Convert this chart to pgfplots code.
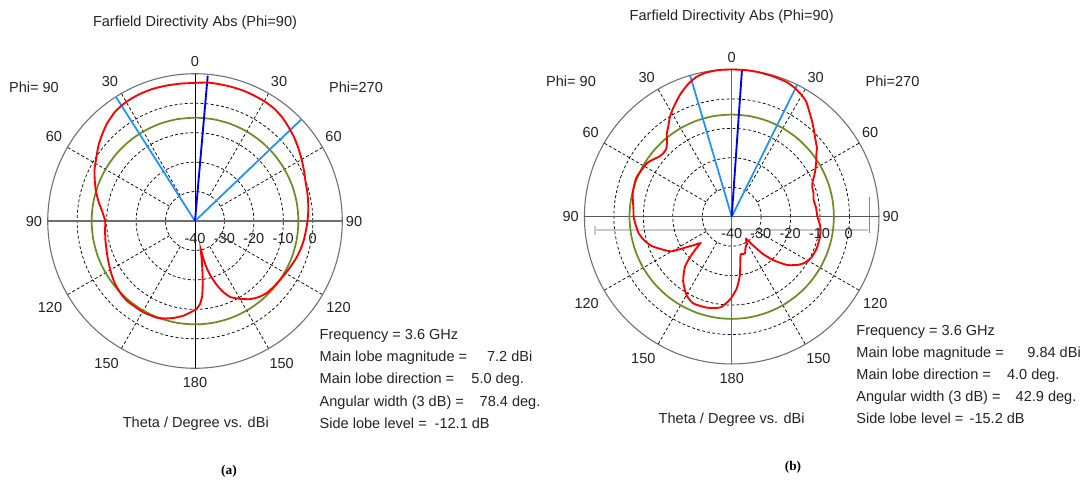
\documentclass[border=0pt]{standalone}
\usepackage{fontspec}
\setmainfont{Liberation Sans}
\newfontfamily\serifb{Liberation Serif}
\usepackage{pgfplots}
\usepackage{pgfplotstable}
\pgfplotsset{compat=1.18}
\usepgfplotslibrary{polar}

\definecolor{cstred}{RGB}{255,0,0}
\definecolor{cstgreen}{RGB}{107,142,35}
\definecolor{cstblue}{RGB}{0,0,235}
\definecolor{cstlblue}{RGB}{30,144,255}
\definecolor{cstaxis}{RGB}{110,110,110}
\definecolor{txt}{RGB}{35,35,35}
\definecolor{slider}{RGB}{200,200,200}
\definecolor{sliderb}{RGB}{160,120,120}

\newcommand\fs{\fontsize{10.9}{13}\selectfont}

% main lobe pattern (a): theta (deg, clockwise from top), directivity (dBi)
\pgfplotstableread{
phi db
0 6.9
5 7.2
10 7.2
15 7.2
20 7.2
25 7.1
30 7.0
35 6.7
40 6.0
45 5.0
50 4.0
55 2.9
60 1.8
65 0.8
70 -0.1
75 -0.6
80 -1.0
85 -1.4
90 -1.8
95 -2.2
100 -2.5
105 -2.9
110 -3.4
115 -4.0
120 -4.5
125 -4.9
130 -5.2
135 -5.5
140 -6.3
145 -7.6
150 -9.5
155 -11.5
158 -13.8
161 -16.8
164 -20.5
166 -23.5
167.5 -27.0
168.5 -30.4
170 -27.0
171.5 -23.0
173 -18.5
174.5 -14.5
176.5 -11.8
179 -10.2
182 -9.2
187 -7.6
192 -6.4
197 -5.4
202 -4.7
210 -4.4
220 -4.4
226 -4.8
232 -5.5
237 -6.3
242 -7.1
247 -7.8
252 -8.4
258 -8.9
264 -9.3
270 -9.5
276 -8.3
282 -6.4
287 -4.8
292 -3.3
297 -1.7
303 -0.1
308 1.6
313 3.1
318 4.6
324 6.0
330 6.7
336 7.0
342 7.1
348 7.0
354 6.9
360 6.9
}\redA

% pattern (b)
\pgfplotstableread{
phi db
0 10.0
5 10.0
10 9.9
16 9.7
22 9.4
26 8.7
30 7.6
33 6.5
36 4.6
40 2.4
44 0.3
47 -1.2
51 -2.8
54 -4.5
57 -5.8
62 -8.0
67 -10.2
70 -10.9
74 -11.1
78 -11.6
84 -11.2
90 -10.9
96 -9.8
102 -9.3
110 -9.2
117 -9.6
122 -10.6
126 -12.2
131 -15.0
136 -19.4
140 -23.5
144 -28.5
147 -31.0
151 -29.5
156 -28.5
160 -26.8
164 -26.8
167 -26.7
172 -20.0
176 -15.6
181 -12.0
187 -9.0
195 -8.0
204 -7.8
210 -9.3
217 -12.6
223 -16.7
226 -20.4
228 -23.5
230 -26.0
233 -24.0
236 -21.5
240 -16.5
245 -13.8
250 -11.0
255 -9.2
260 -7.9
265 -7.3
270 -6.7
275 -6.5
283 -5.5
292 -5.0
302 -5.9
306 -7.0
310 -8.1
313 -8.3
316 -8.0
319 -6.5
322 -4.2
325 -2.5
328 -0.3
331 1.5
335 3.8
338 5.5
342 7.5
346 9.0
350 9.7
355 10.0
360 10.0
}\redB

\tikzset{gridr/.style={black, line width=0.55pt, dash pattern=on 2.2pt off 1.7pt}}

\pgfplotsset{
  cstpolar/.style={
    scale only axis, width=220.9pt, height=220.9pt,
    anchor=center,
    ymin=0, ymax=50,
    xtick=\empty, ytick={10,20,30,40},
    yticklabels={},
    ymajorgrids,
    major grid style={black, line width=0.55pt, dash pattern=on 2.2pt off 1.7pt},
    axis line style={draw=cstaxis, line width=0.8pt},
    tick style={draw=none},
    clip=false,
  },
  dB/.style={x filter/.expression={90-x}, y filter/.expression={max(y+40,0)}},
}

\begin{document}
\begin{tikzpicture}[x=0.75pt, y=-0.75pt]
\path[use as bounding box, fill=white] (0,0) rectangle (1080,481);

% ---------------- (a) ----------------
\begin{polaraxis}[cstpolar, at={(146.25pt,-165.75pt)}]
\pgfplotsinvokeforeach{30,60,120,150,210,240,300,330}{
  \draw[gridr] (axis cs:#1,10) -- (axis cs:#1,50);
}
\draw[cstaxis, line width=0.8pt] (axis cs:0,50) -- (axis cs:180,50);
\draw[black, line width=0.65pt] (axis cs:90,50) -- (axis cs:270,50);
\addplot[dB, cstgreen, line width=1.3pt, smooth] coordinates {
(0,-4.9)(10,-4.9)(20,-4.9)(30,-4.9)(40,-4.9)(50,-4.9)(60,-4.9)(70,-4.9)(80,-4.9)
(90,-4.9)(100,-4.9)(110,-4.9)(120,-4.9)(130,-4.9)(140,-4.9)(150,-4.9)(160,-4.9)(170,-4.9)
(180,-4.9)(190,-4.9)(200,-4.9)(210,-4.9)(220,-4.9)(230,-4.9)(240,-4.9)(250,-4.9)(260,-4.9)
(270,-4.9)(280,-4.9)(290,-4.9)(300,-4.9)(310,-4.9)(320,-4.9)(330,-4.9)(340,-4.9)(350,-4.9)(360,-4.9)};
\addplot[dB, cstlblue, line width=1.3pt] coordinates {(327.5,-40) (327.5,10)};
\addplot[dB, cstlblue, line width=1.3pt] coordinates {(46.3,-40) (46.3,10)};
\addplot[dB, cstblue, line width=1.4pt] coordinates {(5,-40) (5,9.5)};
\addplot[dB, cstred, line width=1.4pt, smooth, tension=0.35] table {\redA};
\end{polaraxis}

\begin{scope}[font=\fs, text=txt]
\node[anchor=base] at (195,26.7) {Farfield Directivity Abs (Phi=90)};
\node at (34,87.3) {Phi= 90};
\node at (356,87.3) {Phi=270};
\node at (195,61.5) {0};
\node at (110,81.5) {30};   \node at (279,81.5) {30};
\node at (54,136.6) {60};   \node at (333.5,136.6) {60};
\node at (34,221) {90};     \node at (354,221) {90};
\node at (50,307.5) {120};  \node at (338.5,307.5) {120};
\node at (106.6,363) {150}; \node at (281.7,363) {150};
\node at (195,382.6) {180};
\node at (195,238.5) {-40};
\node at (224.4,238.5) {-30};
\node at (253.8,238.5) {-20};
\node at (283.2,238.5) {-10};
\node at (312.6,238.5) {0};
\node[anchor=base] at (195.8,427.5) {Theta / Degree vs. dBi};
\node[anchor=base west] at (315,339.3) {Frequency = 3.6 GHz};
\node[anchor=base west] at (315,361.5) {Main lobe magnitude =};
\node[anchor=base east] at (537,361.5) {7.2 dBi};
\node[anchor=base west] at (315,383.8) {Main lobe direction =};
\node[anchor=base west] at (466.7,383.8) {5.0 deg.};
\node[anchor=base west] at (315,406) {Angular width (3 dB) =};
\node[anchor=base west] at (475,406) {78.4 deg.};
\node[anchor=base west] at (315,428.3) {Side lobe level =};
\node[anchor=base west] at (430,428.3) {-12.1 dB};
\end{scope}
\node[font=\serifb\bfseries\fontsize{10}{12}\selectfont] at (229,471) {(a)};

% ---------------- (b) ----------------
\draw[slider, line width=1.5pt] (595,230) -- (868,230);
\draw[slider, line width=1.2pt] (595,225.5) -- (595,234.5);
\draw[sliderb, line width=1.2pt] (869.3,197) -- (869.3,233);

\begin{polaraxis}[cstpolar, at={(548.775pt,-162.525pt)}]
\pgfplotsinvokeforeach{30,60,120,150,210,240,300,330}{
  \draw[gridr] (axis cs:#1,10) -- (axis cs:#1,50);
}
\draw[cstaxis!80!black, line width=0.8pt] (axis cs:0,50) -- (axis cs:180,50);
\draw[cstaxis, line width=0.8pt] (axis cs:90,50) -- (axis cs:270,50);
\addplot[dB, cstgreen, line width=1.3pt, smooth] coordinates {
(0,-5.3)(10,-5.3)(20,-5.3)(30,-5.3)(40,-5.3)(50,-5.3)(60,-5.3)(70,-5.3)(80,-5.3)
(90,-5.3)(100,-5.3)(110,-5.3)(120,-5.3)(130,-5.3)(140,-5.3)(150,-5.3)(160,-5.3)(170,-5.3)
(180,-5.3)(190,-5.3)(200,-5.3)(210,-5.3)(220,-5.3)(230,-5.3)(240,-5.3)(250,-5.3)(260,-5.3)
(270,-5.3)(280,-5.3)(290,-5.3)(300,-5.3)(310,-5.3)(320,-5.3)(330,-5.3)(340,-5.3)(350,-5.3)(360,-5.3)};
\addplot[dB, cstlblue, line width=1.3pt] coordinates {(343.6,-40) (343.6,10)};
\addplot[dB, cstlblue, line width=1.3pt] coordinates {(26.4,-40) (26.4,10)};
\addplot[dB, cstblue, line width=1.4pt] coordinates {(4,-40) (4,10)};
\addplot[dB, cstred, line width=1.4pt, smooth, tension=0.35] table {\redB};
\end{polaraxis}

\begin{scope}[font=\fs, text=txt]
\node[anchor=base] at (731.7,21) {Farfield Directivity Abs (Phi=90)};
\node at (571,81.7) {Phi= 90};
\node at (892.5,81.7) {Phi=270};
\node at (731.7,57.2) {0};
\node at (646.7,77.2) {30};   \node at (815.7,77.2) {30};
\node at (590.7,132.3) {60};  \node at (870.2,132.3) {60};
\node at (570.7,216.7) {90};  \node at (890.7,216.7) {90};
\node at (586.7,303.2) {120}; \node at (875.2,303.2) {120};
\node at (643.3,358.7) {150}; \node at (818.4,358.7) {150};
\node at (731.7,378.3) {180};
\node at (731.7,233.5) {-40};
\node at (760.7,233.5) {-30};
\node at (790.1,233.5) {-20};
\node at (819.5,233.5) {-10};
\node at (848.6,233.5) {0};
\node[anchor=base] at (731.7,423) {Theta / Degree vs. dBi};
\node[anchor=base west] at (851.7,335) {Frequency = 3.6 GHz};
\node[anchor=base west] at (851.7,357) {Main lobe magnitude =};
\node[anchor=base west] at (1022.7,357) {9.84 dBi};
\node[anchor=base west] at (851.7,379) {Main lobe direction =};
\node[anchor=base west] at (1002.3,379) {4.0 deg.};
\node[anchor=base west] at (851.7,401) {Angular width (3 dB) =};
\node[anchor=base west] at (1011,401) {42.9 deg.};
\node[anchor=base west] at (851.7,423.3) {Side lobe level =};
\node[anchor=base west] at (965,423.3) {-15.2 dB};
\end{scope}
\node[font=\serifb\bfseries\fontsize{10}{12}\selectfont] at (793,467) {(b)};
\end{tikzpicture}
\end{document}
